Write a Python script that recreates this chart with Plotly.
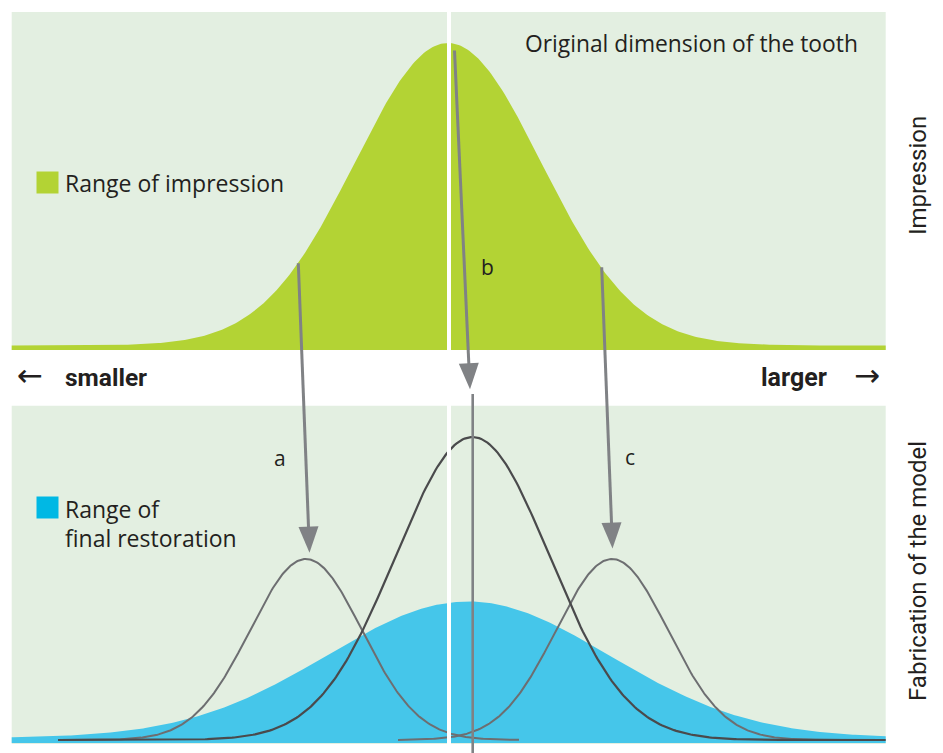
import numpy as np
import plotly.graph_objects as go

W, H = 943, 753

# ---------------- data (x and y in pixel-like units, y from top) -------------
curve_names = ["Range of impression", "Range of final restoration", "Model a", "Model b", "Model c"]
curve_centers = [448.0, 468.0, 306.0, 472.5, 612.0]
curve_sigmas = [93.0, 141.0, 56.0, 77.0, 56.0]
curve_peaks = [302.5, 136.5, 181.0, 303.0, 181.0]
curve_x_from = [11.7, 11.7, 58.0, 58.0, 398.0]
curve_x_to = [885.7, 885.7, 519.0, 885.7, 843.0]

arrow_labels = ["a", "b", "c"]
arrow_x0 = [298.3, 454.5, 601.7]
arrow_y0 = [263.3, 50.5, 267.3]
arrow_x1 = [309.5, 470.0, 612.5]
arrow_y1 = [552.7, 389.3, 548.5]
label_x = [280.0, 487.0, 630.0]
label_y = [458.0, 267.0, 457.0]

mean_line_x = [472.7, 472.7]
mean_line_y = [394.0, 753.0]

# ---------------- layout constants -------------
TOP = dict(x0=11.7, x1=885.7, y0=12.0, y1=350.0)
BOT = dict(x0=11.7, x1=885.7, y0=405.7, y1=744.0)
BG = "#E3EFE1"
GREEN = "#B3D334"
BLUE = "#45C6EA"
ARROW = "#808285"
DARK = "#4A4A4C"
MID = "#6D6E71"
TXT = "#231F20"
MAIN_FONT = "Open Sans"
COND_FONT = "Liberation Sans Narrow, Roboto, Arial"

bases = [345.5, 738.0, 740.0, 740.0, 740.0]
fill_bottoms = [350.0, 743.0, None, None, None]


def curve(i, n=400):
    xs = np.linspace(curve_x_from[i], curve_x_to[i], n)
    ys = bases[i] - curve_peaks[i] * np.exp(-((xs - curve_centers[i]) ** 2) / (2 * curve_sigmas[i] ** 2))
    return xs, ys


fig = go.Figure()

# filled distributions
for i, col in [(0, GREEN), (1, BLUE)]:
    xs, ys = curve(i)
    fb = fill_bottoms[i]
    fig.add_trace(go.Scatter(
        x=np.concatenate([[xs[0]], xs, [xs[-1]]]),
        y=np.concatenate([[fb], ys, [fb]]),
        mode="lines", fill="toself", fillcolor=col,
        line=dict(width=0, color=col), hoverinfo="skip", showlegend=False,
        name=curve_names[i]))

# outline distributions
for i, col, w in [(2, MID, 2.0), (4, MID, 2.0), (3, DARK, 2.2)]:
    xs, ys = curve(i)
    fig.add_trace(go.Scatter(x=xs, y=ys, mode="lines", line=dict(color=col, width=w),
                             hoverinfo="skip", showlegend=False, name=curve_names[i]))

# vertical mean line of the model
fig.add_trace(go.Scatter(x=mean_line_x, y=mean_line_y, mode="lines",
                         line=dict(color=ARROW, width=2.6), hoverinfo="skip", showlegend=False))

# arrows
HEAD_LEN, HEAD_HALF = 26.0, 10.0
for k in range(len(arrow_labels)):
    x0, y0, x1, y1 = arrow_x0[k], arrow_y0[k], arrow_x1[k], arrow_y1[k]
    L = np.hypot(x1 - x0, y1 - y0)
    dx, dy = (x1 - x0) / L, (y1 - y0) / L
    bx, by = x1 - dx * (HEAD_LEN - 2), y1 - dy * (HEAD_LEN - 2)
    fig.add_trace(go.Scatter(x=[x0, bx], y=[y0, by], mode="lines",
                             line=dict(color=ARROW, width=3), hoverinfo="skip", showlegend=False))
    cx, cy = x1 - dx * HEAD_LEN, y1 - dy * HEAD_LEN
    nx, ny = -dy, dx
    fig.add_trace(go.Scatter(
        x=[x1, cx + nx * HEAD_HALF, cx - nx * HEAD_HALF, x1],
        y=[y1, cy + ny * HEAD_HALF, cy - ny * HEAD_HALF, y1],
        mode="lines", fill="toself", fillcolor=ARROW, line=dict(width=0, color=ARROW),
        hoverinfo="skip", showlegend=False))
    fig.add_annotation(x=label_x[k], y=label_y[k], text=arrow_labels[k], showarrow=False,
                       xref="x", yref="y", font=dict(family=MAIN_FONT, size=21, color=TXT))

shapes = []
for p in (TOP, BOT):
    shapes.append(dict(type="rect", xref="x", yref="y", layer="below", line=dict(width=0),
                       fillcolor=BG, **p))
# white separation line at the original dimension
shapes.append(dict(type="line", xref="x", yref="y", x0=449, x1=449, y0=TOP["y0"], y1=BOT["y1"],
                   line=dict(color="white", width=4), layer="above"))
# legend keys
shapes.append(dict(type="rect", xref="x", yref="y", x0=36.5, x1=58.5, y0=171.5, y1=193.5,
                   fillcolor=GREEN, line=dict(width=0)))
shapes.append(dict(type="rect", xref="x", yref="y", x0=36.5, x1=58.5, y0=496.5, y1=518.5,
                   fillcolor="#00B8E4", line=dict(width=0)))

ann = [
    dict(x=860, y=43, text="Original dimension of the tooth", xanchor="right",
         font=dict(family=MAIN_FONT, size=22.8, color=TXT)),
    dict(x=63, y=183, text="Range of impression", xanchor="left",
         font=dict(family=MAIN_FONT, size=23, color=TXT)),
    dict(x=63, y=509, text="Range of", xanchor="left",
         font=dict(family=MAIN_FONT, size=23, color=TXT)),
    dict(x=63, y=538, text="final restoration", xanchor="left",
         font=dict(family=MAIN_FONT, size=23, color=TXT)),
    dict(x=63, y=377, text="<b>smaller</b>", xanchor="left",
         font=dict(family=COND_FONT, size=24.5, color=TXT)),
    dict(x=829, y=377, text="<b>larger</b>", xanchor="right",
         font=dict(family=COND_FONT, size=25, color=TXT)),
    dict(x=30, y=375, text="←", xanchor="center",
         font=dict(family="DejaVu Sans", size=31, color=TXT)),
    dict(x=867, y=375, text="→", xanchor="center",
         font=dict(family="DejaVu Sans", size=31, color=TXT)),
    dict(x=918, y=176, text="Impression", textangle=-90,
         font=dict(family=COND_FONT, size=24, color=TXT)),
    dict(x=918, y=571, text="Fabrication of the model", textangle=-90,
         font=dict(family=COND_FONT, size=24, color=TXT)),
]
for a in ann:
    fig.add_annotation(xref="x", yref="y", showarrow=False, yanchor="middle", **a)

fig.update_layout(
    width=W, height=H, margin=dict(l=0, r=0, t=0, b=0),
    paper_bgcolor="white", plot_bgcolor="white", shapes=shapes, showlegend=False,
    xaxis=dict(range=[0, W], visible=False, fixedrange=True),
    yaxis=dict(range=[H, 0], visible=False, fixedrange=True),
)
fig.write_html("out.html", config={"displayModeBar": False},
               post_script="document.body.style.margin='0';")
